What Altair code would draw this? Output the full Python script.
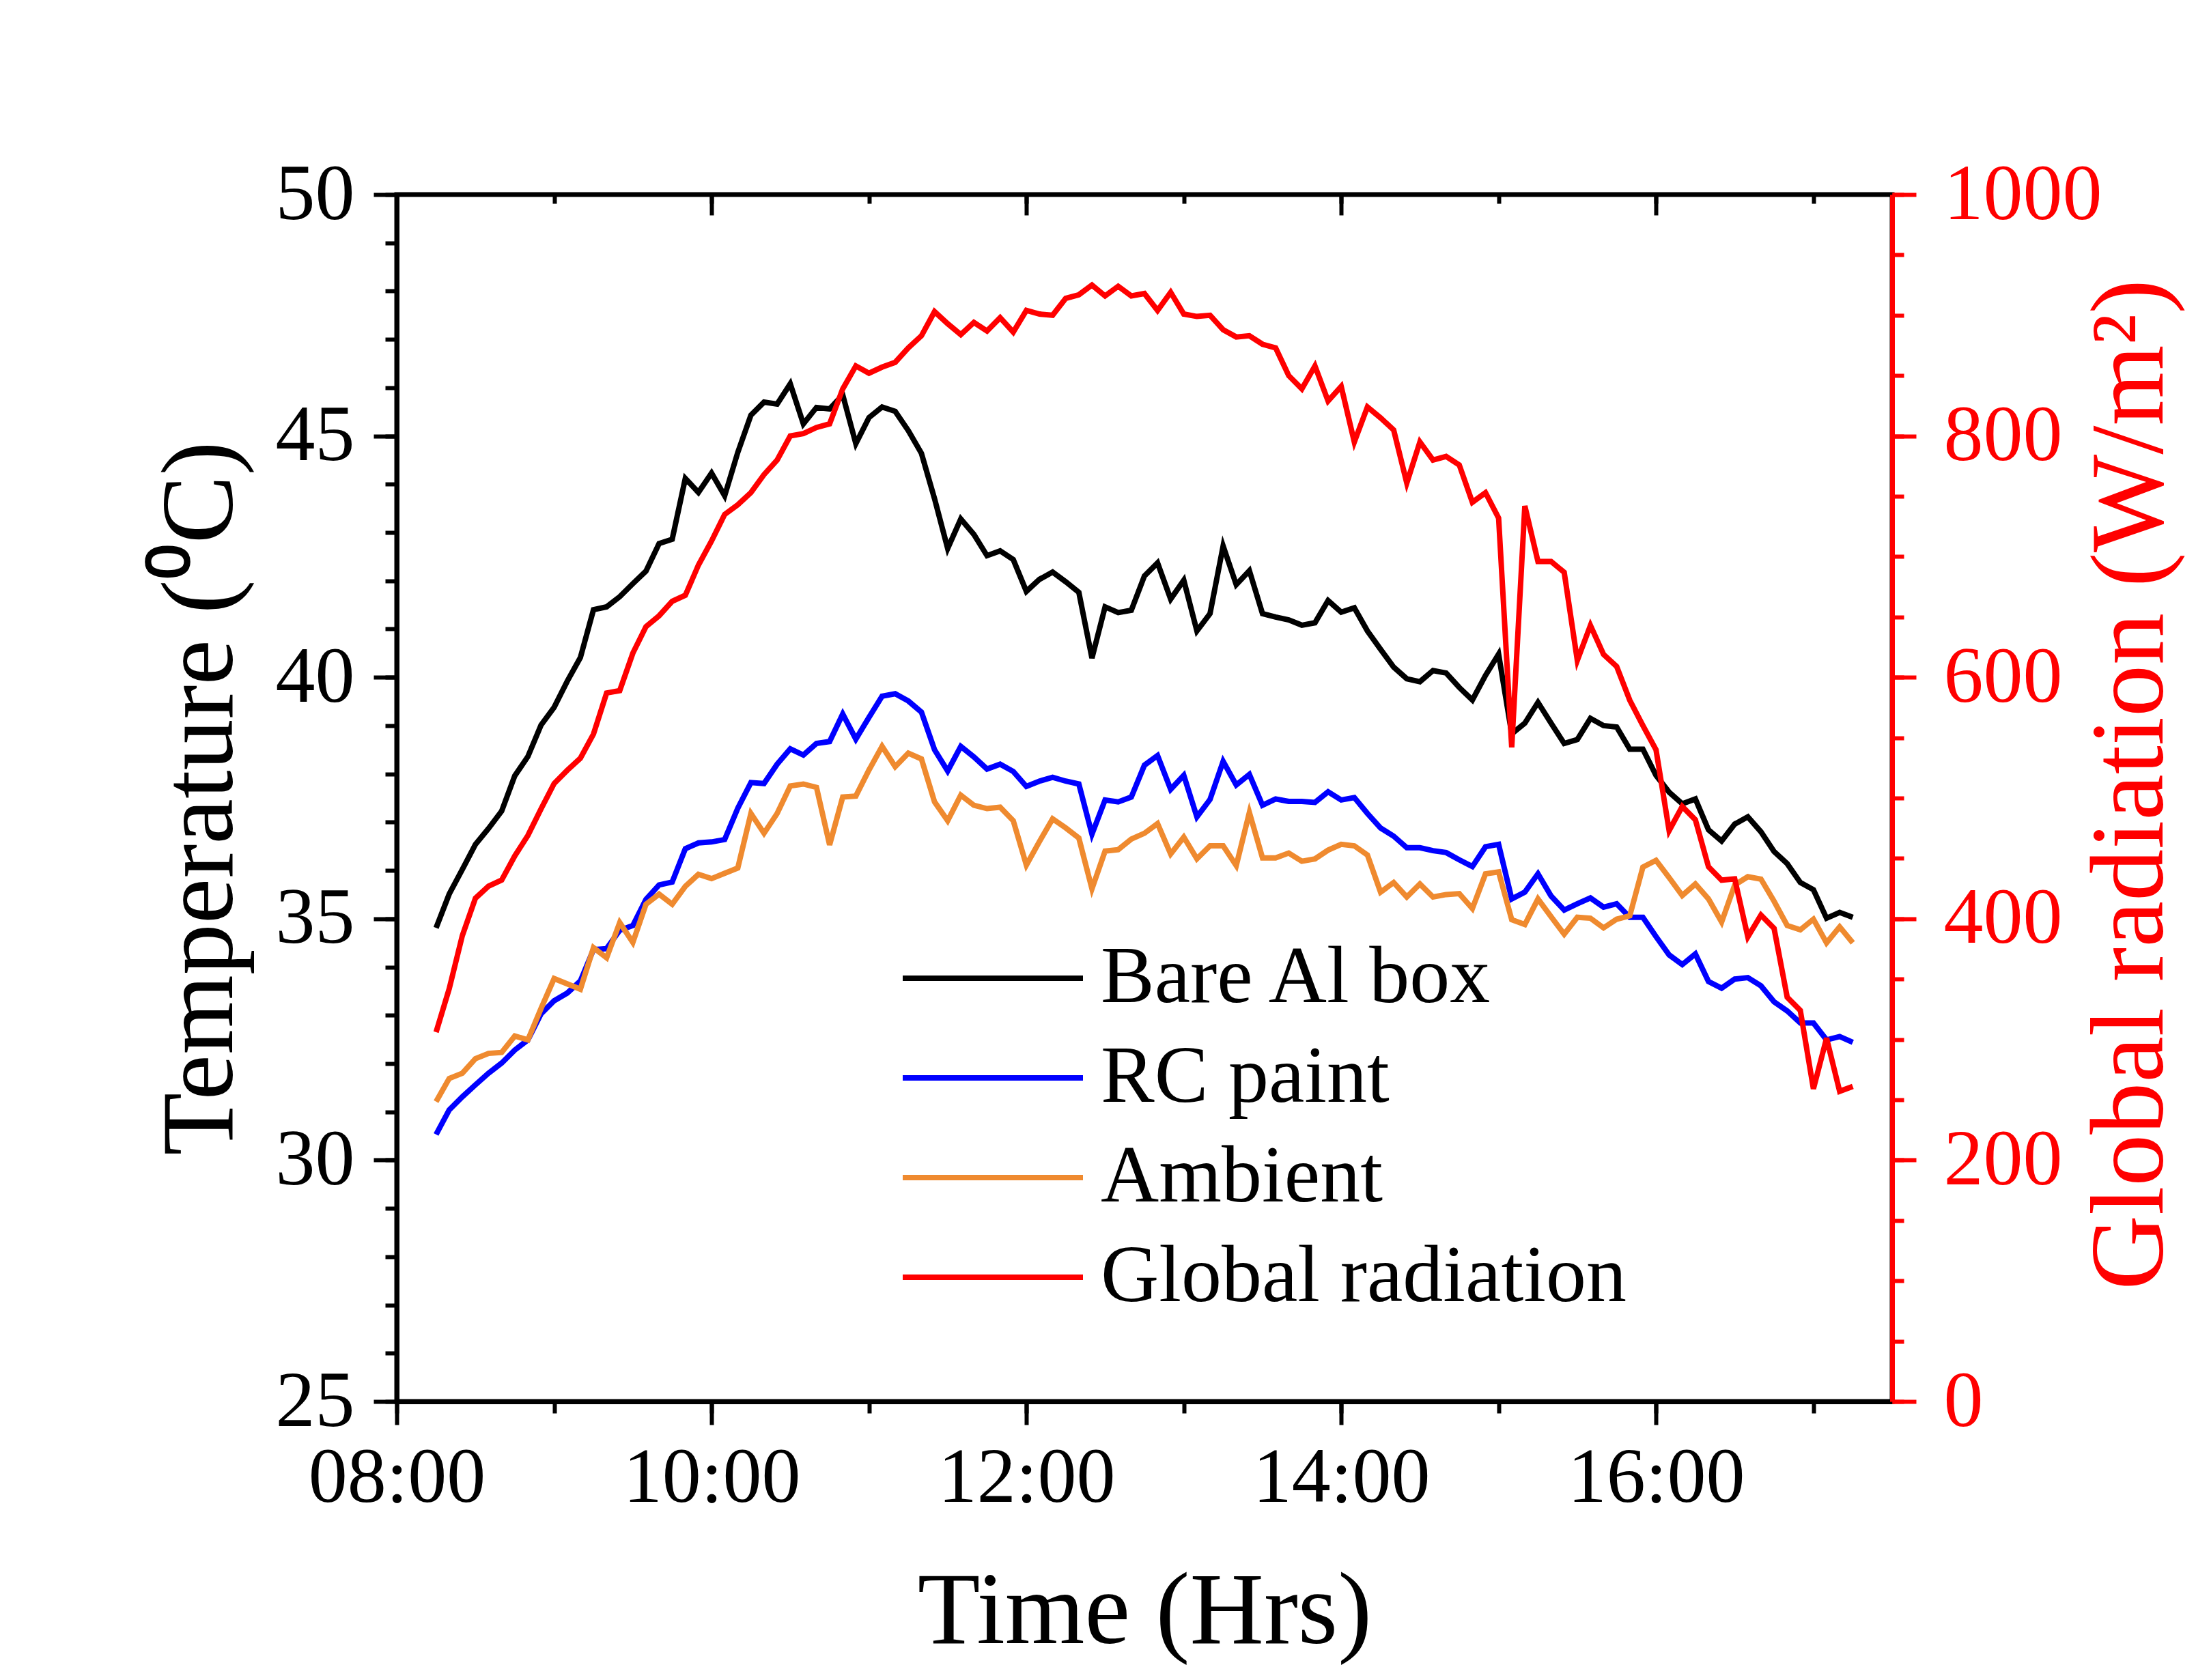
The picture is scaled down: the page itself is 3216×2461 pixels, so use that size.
import altair as alt
import pandas as pd

FONT = "Liberation Serif"

# sampling times (every 5 minutes, 08:15 - 17:15)
times = pd.date_range("2024-01-01 08:15", periods=109, freq="5min")

bare_al_box = [
    34.81, 35.51, 36.02, 36.54, 36.87, 37.23, 37.96, 38.36, 39.01, 39.38,
    39.92, 40.41, 41.40, 41.46, 41.67, 41.94, 42.20, 42.77, 42.86, 44.12,
    43.83, 44.23, 43.76, 44.66, 45.43, 45.70, 45.66, 46.08, 45.25, 45.59,
    45.56, 45.85, 44.84, 45.38, 45.60, 45.51, 45.11, 44.64, 43.70, 42.67,
    43.28, 42.96, 42.52, 42.62, 42.44, 41.78, 42.03, 42.18, 41.98, 41.76,
    40.40, 41.46, 41.34, 41.39, 42.10, 42.37, 41.62, 42.01, 40.96, 41.32,
    42.72, 41.92, 42.21, 41.32, 41.25, 41.19, 41.08, 41.13, 41.59, 41.35,
    41.44, 40.96, 40.58, 40.21, 39.97, 39.91, 40.14, 40.09, 39.79, 39.53,
    40.04, 40.48, 38.83, 39.05, 39.48, 39.05, 38.63, 38.71, 39.15, 39.00,
    38.97, 38.51, 38.51, 37.97, 37.62, 37.38, 37.48, 36.84, 36.61, 36.96,
    37.11, 36.80, 36.39, 36.14, 35.75, 35.60, 35.01, 35.13, 35.03,
]

rc_paint = [
    30.53, 31.04, 31.31, 31.56, 31.80, 32.01, 32.28, 32.49, 33.03, 33.30,
    33.46, 33.71, 34.36, 34.38, 34.76, 34.86, 35.40, 35.70, 35.76, 36.45,
    36.57, 36.59, 36.64, 37.29, 37.82, 37.80, 38.20, 38.52, 38.39, 38.63,
    38.67, 39.24, 38.72, 39.17, 39.61, 39.66, 39.51, 39.28, 38.50, 38.06,
    38.57, 38.35, 38.10, 38.20, 38.05, 37.74, 37.85, 37.93, 37.85, 37.79,
    36.75, 37.46, 37.42, 37.52, 38.18, 38.38, 37.68, 37.97, 37.11, 37.47,
    38.26, 37.77, 37.99, 37.35, 37.48, 37.43, 37.43, 37.41, 37.63, 37.46,
    37.51, 37.18, 36.88, 36.71, 36.47, 36.47, 36.41, 36.37, 36.22, 36.08,
    36.49, 36.54, 35.41, 35.55, 35.93, 35.47, 35.18, 35.31, 35.43, 35.24,
    35.31, 35.03, 35.03, 34.63, 34.25, 34.05, 34.27, 33.70, 33.56, 33.75,
    33.78, 33.61, 33.28, 33.09, 32.84, 32.84, 32.49, 32.56, 32.44,
]

ambient = [
    31.21, 31.69, 31.80, 32.10, 32.21, 32.23, 32.57, 32.49, 33.14, 33.76,
    33.65, 33.54, 34.40, 34.19, 34.92, 34.51, 35.30, 35.51, 35.30, 35.67,
    35.92, 35.83, 35.94, 36.05, 37.18, 36.77, 37.18, 37.75, 37.79, 37.72,
    36.53, 37.52, 37.54, 38.08, 38.57, 38.15, 38.43, 38.31, 37.42, 37.03,
    37.56, 37.35, 37.28, 37.31, 37.03, 36.11, 36.60, 37.07, 36.88, 36.67,
    35.62, 36.40, 36.43, 36.65, 36.77, 36.97, 36.34, 36.69, 36.24, 36.51,
    36.51, 36.10, 37.20, 36.26, 36.26, 36.36, 36.19, 36.24, 36.42, 36.54,
    36.51, 36.32, 35.55, 35.75, 35.45, 35.72, 35.45, 35.50, 35.52, 35.21,
    35.93, 35.97, 34.98, 34.88, 35.41, 35.04, 34.68, 35.03, 35.01, 34.81,
    34.99, 35.06, 36.07, 36.21, 35.85, 35.48, 35.72, 35.41, 34.93, 35.70,
    35.87, 35.82, 35.36, 34.86, 34.77, 34.99, 34.50, 34.83, 34.50,
]

global_radiation = [
    306, 342, 386, 417, 427, 432, 452, 469, 491, 512,
    523, 533, 553, 587, 589, 620, 642, 651, 663, 668,
    693, 713, 735, 743, 753, 768, 780, 800, 802, 807,
    810, 839, 858, 852, 857, 861, 873, 883, 903, 893,
    884, 894, 887, 898, 886, 904, 901, 900, 914, 917,
    925, 916, 924, 916, 918, 904, 919, 901, 899, 900,
    888, 882, 883, 876, 873, 850, 839, 858, 829, 841,
    795, 824, 815, 805, 761, 795, 780, 783, 776, 745,
    753, 732, 542, 742, 696, 696, 687, 614, 643, 619,
    609, 581, 560, 540, 473, 493, 482, 443, 432, 433,
    385, 403, 392, 335, 324, 259, 301, 257, 261,
]

series_names = ["Bare Al box", "RC paint", "Ambient", "Global radiation"]
series_colors = ["#000000", "#0000FF", "#EF8A2F", "#FF0000"]

temp_df = pd.DataFrame({
    "time": list(times) * 3,
    "series": [series_names[0]] * len(times) + [series_names[1]] * len(times) + [series_names[2]] * len(times),
    "value": bare_al_box + rc_paint + ambient,
})
rad_df = pd.DataFrame({
    "time": list(times),
    "series": [series_names[3]] * len(times),
    "value": global_radiation,
})


def dt(h, m=0):
    return alt.DateTime(year=2024, month=1, date=1, hours=h, minutes=m)


W, H = 2190, 1768
LW = 8
x_scale = alt.Scale(domain=[dt(8), dt(17, 30)])
t_scale = alt.Scale(domain=[25, 50], nice=False, zero=False)
r_scale = alt.Scale(domain=[0, 1000], nice=False)
color_scale = alt.Scale(domain=series_names, range=series_colors)

legend = alt.Legend(
    orient="none", legendX=737, legendY=1075, title=None, symbolType="stroke",
    symbolSize=69696, symbolStrokeWidth=LW, clipHeight=146, rowPadding=0,
    labelFont=FONT, labelFontSize=118, labelColor="black", labelOffset=22,
    labelLimit=3000, padding=0, symbolOffset=0,
)

x_major = alt.Axis(
    orient="bottom", values=[dt(h) for h in (8, 10, 12, 14, 16)], format="%H:%M",
    labelFont=FONT, labelFontSize=114, labelColor="black", labelPadding=22,
    labelLimit=3000, labelFlush=False, labelOverlap=False, tickSize=34, tickWidth=6,
    tickColor="black", domainColor="black", domainWidth=7, grid=False,
    title="Time (Hrs)", titleFont=FONT, titleFontSize=150, titleFontWeight="normal",
    titleColor="black", titleX=W / 2, titleY=353, titleBaseline="alphabetic",
    titleAlign="center", titleAngle=0, titleLimit=5000,
)
x_minor = alt.Axis(
    orient="bottom", values=[dt(h) for h in range(8, 18)], labels=False, domain=False,
    tickSize=17, tickWidth=6, tickColor="black", grid=False, title=None,
)
x_top_major = alt.Axis(
    orient="top", values=[dt(h) for h in (8, 10, 12, 14, 16)], labels=False, domain=False,
    tickSize=30, tickWidth=6, tickColor="black", offset=-30, grid=False, title=None,
)
x_top_minor = alt.Axis(
    orient="top", values=[dt(h) for h in range(8, 18)], labels=False, domain=False,
    tickSize=13, tickWidth=6, tickColor="black", offset=-13, grid=False, title=None,
)

y_left_major = alt.Axis(
    orient="left", values=[25, 30, 35, 40, 45, 50], labelFont=FONT, labelFontSize=116,
    labelColor="black", labelPadding=28, labelLimit=3000, labelOverlap=False,
    tickSize=34, tickWidth=6, tickColor="black", domainColor="black", domainWidth=7,
    grid=False,
    title="Temperature (\u2070C)", titleFont=FONT, titleFontSize=150,
    titleFontWeight="normal", titleColor="black", titleAngle=270, titleX=-242,
    titleY=H / 2, titleBaseline="alphabetic", titleAlign="center", titleLimit=5000,
)
y_left_minor = alt.Axis(
    orient="left", values=list(range(25, 51)), labels=False, domain=False,
    tickSize=17, tickWidth=6, tickColor="black", grid=False, title=None,
)
y_right_major = alt.Axis(
    orient="right", values=[0, 200, 400, 600, 800, 1000], format="d", labelFont=FONT,
    labelFontSize=116, labelColor="#FF0000", labelPadding=40, labelLimit=3000,
    labelOverlap=False, tickSize=35, tickWidth=6, tickColor="#FF0000",
    domainColor="#FF0000", domainWidth=7, grid=False,
    title="Global radiation (W/m\u00b2)", titleFont=FONT, titleFontSize=152,
    titleFontWeight="normal", titleColor="#FF0000", titleAngle=270, titleX=395,
    titleY=H / 2 - 20, titleBaseline="alphabetic", titleAlign="center", titleLimit=5000,
)
y_right_minor = alt.Axis(
    orient="right", values=list(range(0, 1001, 50)), labels=False, domain=False,
    tickSize=17, tickWidth=6, tickColor="#FF0000", grid=False, title=None,
)

temp_lines = alt.Chart(temp_df).mark_line(strokeWidth=LW).encode(
    x=alt.X("time:T", scale=x_scale, axis=x_major),
    y=alt.Y("value:Q", scale=t_scale, axis=y_left_major),
    color=alt.Color("series:N", scale=color_scale, legend=legend),
)
temp_minor = alt.Chart(temp_df).mark_point(opacity=0).encode(
    x=alt.X("time:T", scale=x_scale, axis=x_minor),
    y=alt.Y("value:Q", scale=t_scale, axis=y_left_minor),
)
rad_line = alt.Chart(rad_df).mark_line(strokeWidth=LW).encode(
    x=alt.X("time:T", scale=x_scale, axis=x_top_major),
    y=alt.Y("value:Q", scale=r_scale, axis=y_right_major),
    color=alt.Color("series:N", scale=color_scale, legend=legend),
)
rad_minor = alt.Chart(rad_df).mark_point(opacity=0).encode(
    x=alt.X("time:T", scale=x_scale, axis=x_top_minor),
    y=alt.Y("value:Q", scale=r_scale, axis=y_right_minor),
)

chart = (
    alt.layer(temp_lines, temp_minor, rad_line, rad_minor)
    .resolve_scale(y="independent", x="shared", color="shared")
    .resolve_axis(x="independent", y="independent")
    .properties(
        width=W, height=H,
        autosize=alt.AutoSizeParams(type="none"),
        padding={"left": 573, "top": 277, "right": 430, "bottom": 390},
        background="white",
    )
    .configure_view(stroke="black", strokeWidth=7)
)

chart.save("out.html", embed_options={"renderer": "svg", "actions": False})
